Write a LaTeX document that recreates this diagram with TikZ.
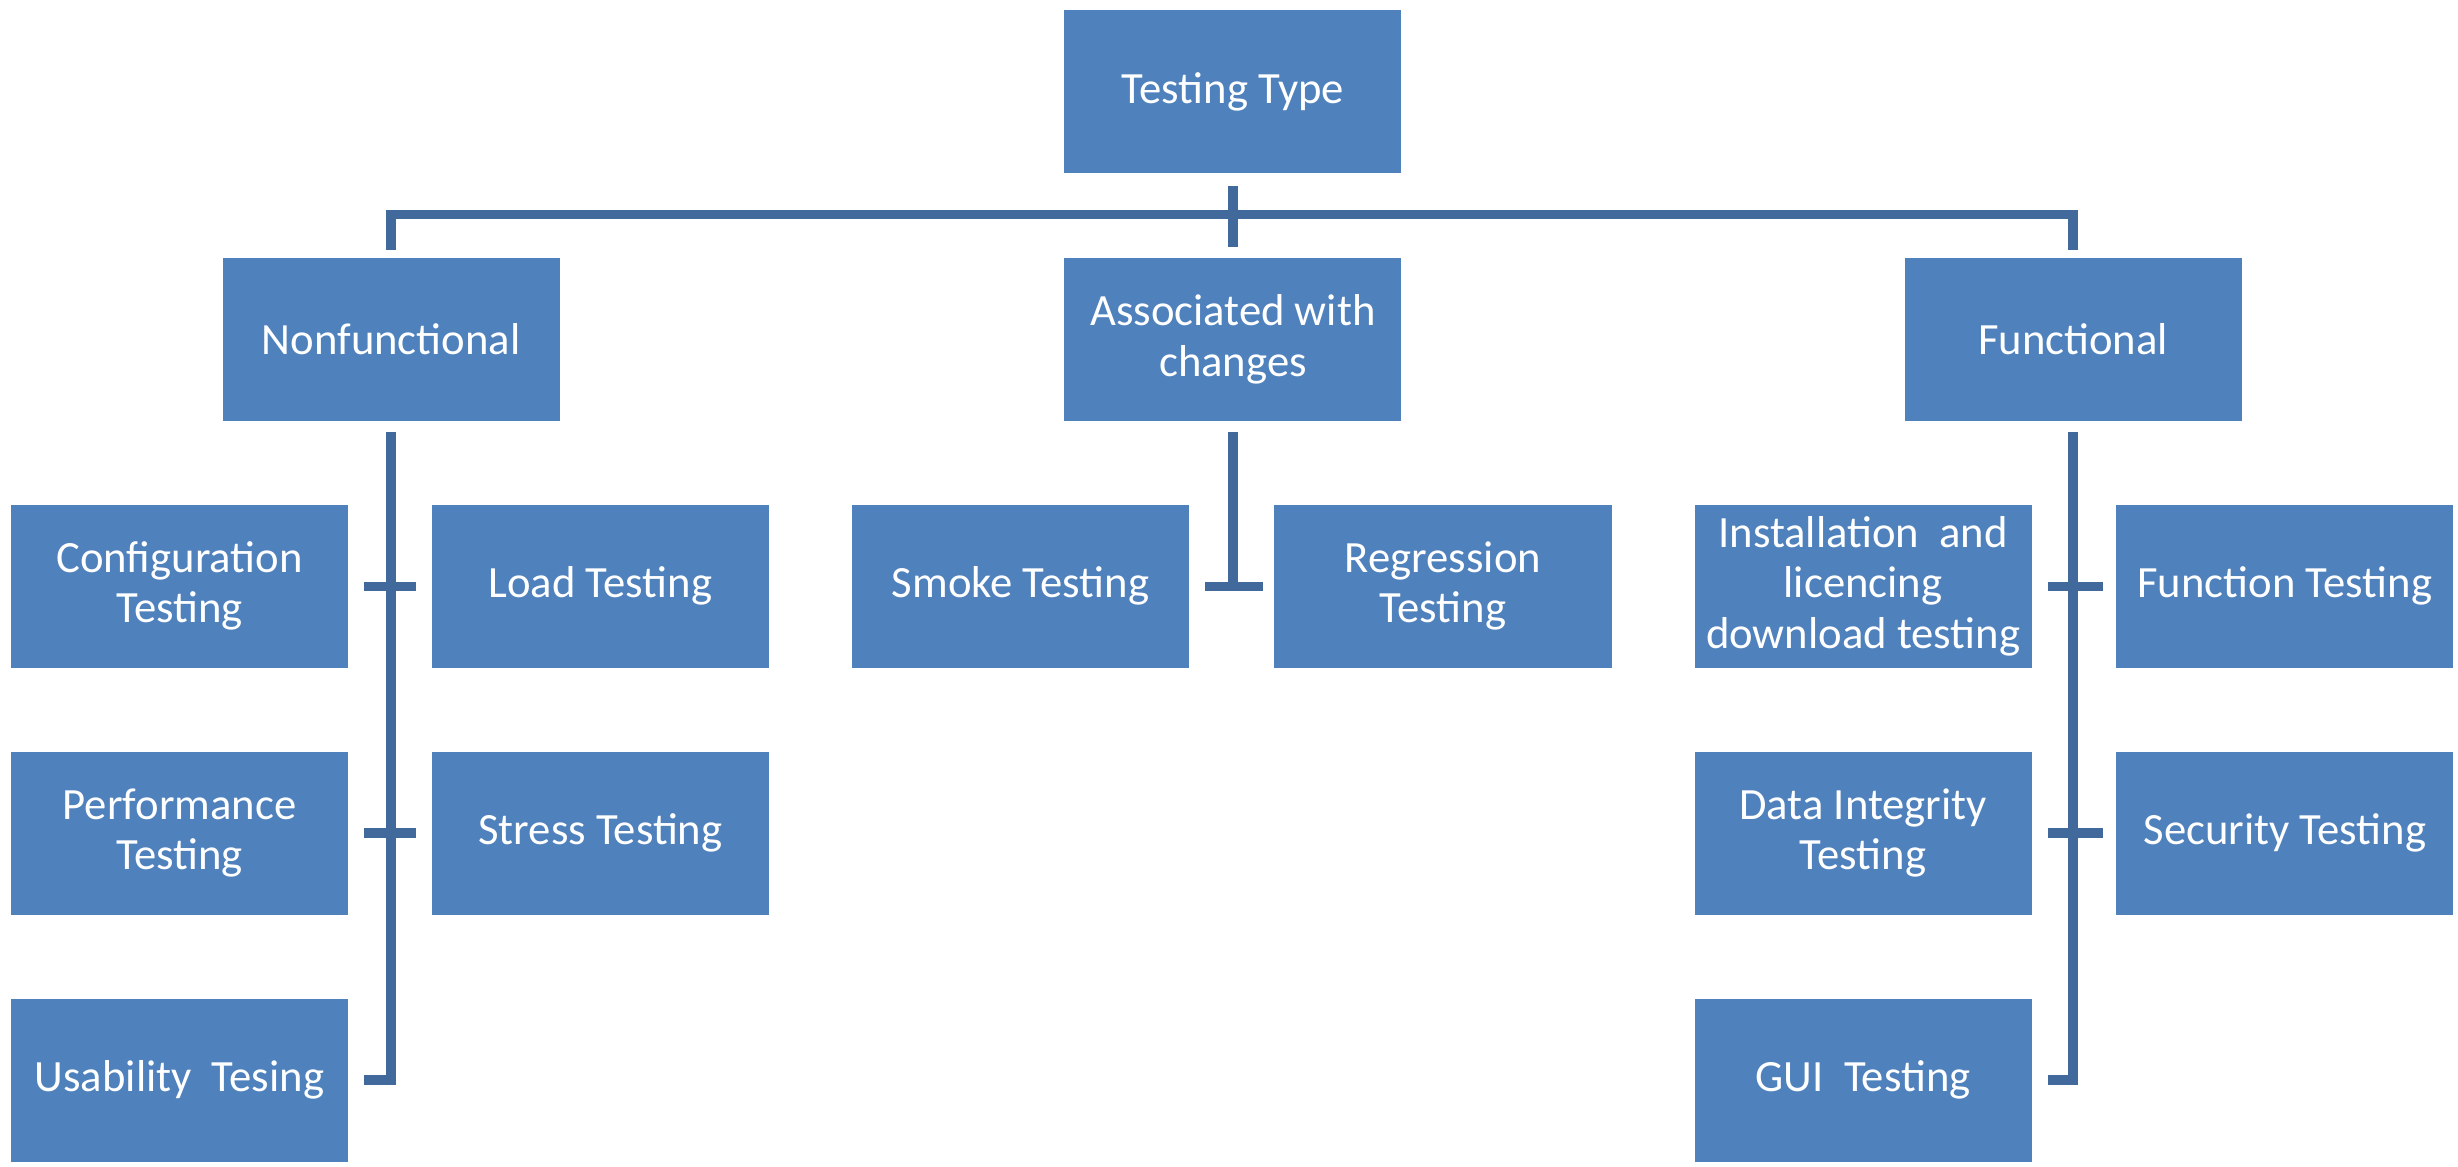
\documentclass[tikz,border=0pt]{standalone}
\usepackage{fontspec}
\setmainfont{Carlito}
\definecolor{boxblue}{HTML}{4F81BD}
\definecolor{linkblue}{HTML}{41699B}
\tikzset{
  tbox/.style={fill=boxblue, draw=none, text=white, align=center,
    minimum width=215pt, minimum height=104pt, inner sep=2pt,
    font=\fontsize{28.5}{32}\selectfont},
  conn/.style={draw=linkblue, line width=6pt}
}
\begin{document}
\begin{tikzpicture}[x=1pt,y=-1pt]
\useasboundingbox[fill=white] (0,0) rectangle (1568,744);
% nodes
\node[tbox] (tt) at (786.5,58.5) {Testing Type};
\node[tbox] (nf) at (249.5,216.5) {Nonfunctional};
\node[tbox] (as) at (786.5,216.5) {Associated with\\changes};
\node[tbox] (fn) at (1322.5,216.5) {Functional};
\node[tbox] (conf) at (114.5,374) {Configuration\\Testing};
\node[tbox] (load) at (383,374) {Load Testing};
\node[tbox] (perf) at (114.5,531.5) {Performance\\Testing};
\node[tbox] (stress) at (383,531.5) {Stress Testing};
\node[tbox] (usab) at (114.5,689) {Usability\ \ Tesing};
\node[tbox] (smoke) at (651,374) {Smoke\ Testing};
\node[tbox] (reg) at (920.5,374) {Regression\\Testing};
\node[tbox] (inst) at (1188.5,374) {Installation\ \ and\\licencing\\download\ testing};
\node[tbox] (func) at (1457.5,374) {Function Testing};
\node[tbox] (data) at (1188.5,531.5) {Data Integrity\\Testing};
\node[tbox] (sec) at (1457.5,531.5) {Security Testing};
\node[tbox] (gui) at (1188.5,689) {GUI\ \ Testing};
\coordinate (bar) at (786.5,137);
% top level
\draw[conn] ([yshift=5pt]nf.north) -- (nf.north |- bar) -- (fn.north |- bar) -- ([yshift=5pt]fn.north);
\draw[conn] ([yshift=-8pt]tt.south) -- ([yshift=7pt]as.north);
% nonfunctional branch
\draw[conn] ([yshift=-7pt]nf.south) -- (nf.south |- usab.east) -- ([xshift=10pt]usab.east);
\draw[conn] ([xshift=10pt]conf.east) -- ([xshift=-10pt]load.west);
\draw[conn] ([xshift=10pt]perf.east) -- ([xshift=-10pt]stress.west);
% associated branch
\draw[conn] ([yshift=-7pt]as.south) -- (as.south |- smoke.east);
\draw[conn] ([xshift=10pt]smoke.east) -- ([xshift=-7pt]reg.west);
% functional branch
\draw[conn] ([yshift=-7pt]fn.south) -- (fn.south |- gui.east) -- ([xshift=10pt]gui.east);
\draw[conn] ([xshift=10pt]inst.east) -- ([xshift=-8pt]func.west);
\draw[conn] ([xshift=10pt]data.east) -- ([xshift=-8pt]sec.west);
\end{tikzpicture}
\end{document}
